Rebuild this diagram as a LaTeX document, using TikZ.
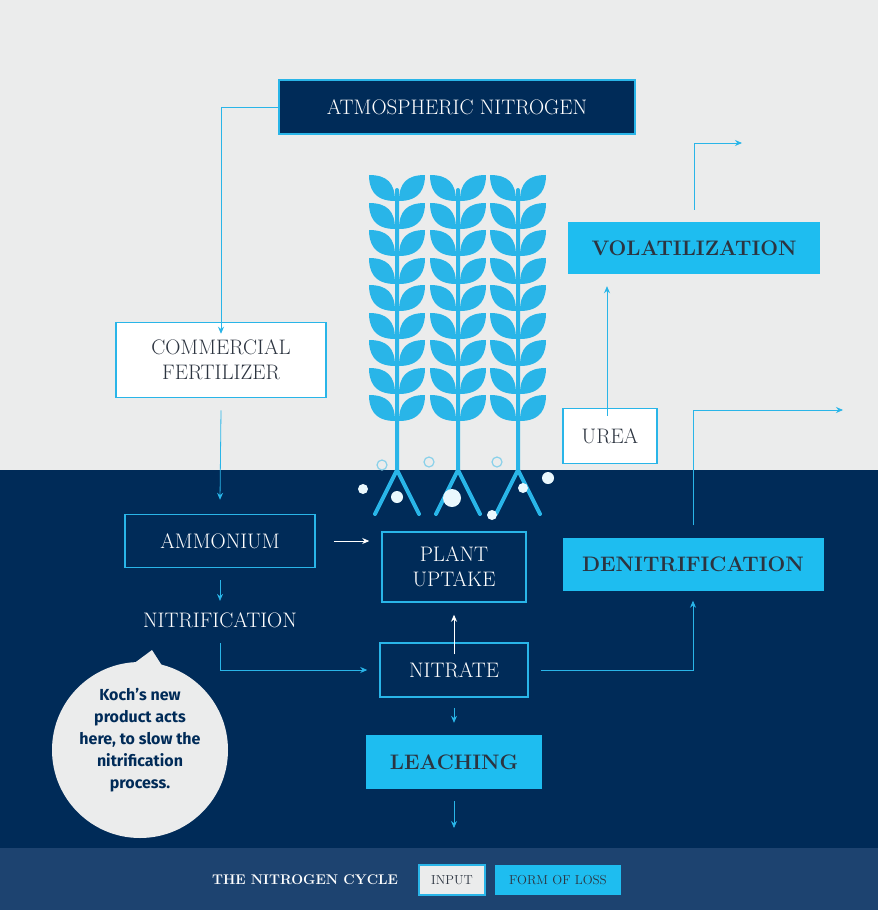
\documentclass[tikz,border=0pt]{standalone}
\usepackage{fontspec}
\newfontfamily\calloutfont{Fira Sans}
\usetikzlibrary{positioning}
\usetikzlibrary{arrows.meta}
\definecolor{navy}{HTML}{002B58}
\definecolor{band}{HTML}{1D4370}
\definecolor{paper}{HTML}{EBECEC}
\definecolor{cyanx}{HTML}{29B5E8}
\definecolor{lossfill}{HTML}{1EBDF0}
\definecolor{ink}{HTML}{2C3440}

\begin{document}
\begin{tikzpicture}[x=1pt,y=-1pt,>={Stealth[length=7pt,width=6pt]},
		flow/.style={->,cyanx,thick},
		input box/.style={draw=cyanx,line width=1.5pt,fill=white,text=ink,font=\fontsize{21}{25}\selectfont,align=center,inner sep=0pt},
		dark box/.style={draw=cyanx,line width=1.5pt,fill=navy,text=white,font=\fontsize{21}{25}\selectfont,align=center,inner sep=0pt},
		loss box/.style={fill=lossfill,text=ink,font=\bfseries\fontsize{21}{25}\selectfont,align=center,inner sep=0pt}]
		
		% background
		\useasboundingbox (0,0) rectangle (878,910);
		\fill[paper] (0,0) rectangle (878,470);
		\fill[navy] (0,470) rectangle (878,848);
		\fill[band] (0,848) rectangle (878,910);
		
		% plants
		\foreach \sx in {397,458,518} {
			\foreach \ly in {175,203,230,258,285,313,340,368,395} {
				\fill[cyanx] (\sx-2,\ly+26) .. controls (\sx-24,\ly+26) and (\sx-28,\ly+12) .. (\sx-28,\ly)
					.. controls (\sx-10,\ly) and (\sx-2,\ly+8) .. cycle;
				\fill[cyanx] (\sx+2,\ly+26) .. controls (\sx+24,\ly+26) and (\sx+28,\ly+12) .. (\sx+28,\ly)
					.. controls (\sx+10,\ly) and (\sx+2,\ly+8) .. cycle;
			}
			\draw[cyanx,line width=4pt,line cap=round] (\sx,190) -- (\sx,470) -- (\sx-22,514);
			\draw[cyanx,line width=4pt,line cap=round] (\sx,470) -- (\sx+22,514);
		}
		\foreach \bx/\by/\br in {382/465/5,429/462/5,497/462/5} {
			\draw[cyanx!50!paper,line width=1.2pt] (\bx,\by) circle (\br);
		}
		\foreach \bx/\by/\br in {363/489/5,397/497/6,452/498/9,492/515/5,523/488/5,548/478/6} {
			\fill[white!90!cyanx] (\bx,\by) circle (\br);
		}
		
		% nodes
		\node[dark box,minimum width=356,minimum height=54] (atmo) at (457,107) {ATMOSPHERIC NITROGEN};
		\node[input box,minimum width=210,minimum height=75] (fert) at (221,360) {COMMERCIAL\\FERTILIZER};
		\node[input box,minimum width=94,minimum height=55] (urea) at (610,436) {UREA};
		\node[loss box,minimum width=252,minimum height=52] (vola) at (694,248) {VOLATILIZATION};
		\node[dark box,minimum width=190,minimum height=53] (ammo) at (220,541) {AMMONIUM};
		\node[text=white,font=\fontsize{21}{25}\selectfont] (nitri) at (220,620) {NITRIFICATION};
		\node[dark box,minimum width=144,minimum height=70] (plant) at (454,567) {PLANT\\UPTAKE};
		\node[dark box,minimum width=148,minimum height=54] (nitra) at (454,670) {NITRATE};
		\node[loss box,minimum width=176,minimum height=54] (leach) at (454,762) {LEACHING};
		\node[loss box,minimum width=261,minimum height=53] (deni) at (693,564) {DENITRIFICATION};
		
		% callout
		\fill[paper] (140,750) circle (88);
		\fill[paper] (125,670) -- (152,650) -- (168,675) -- cycle;
		\node[text=navy,font=\calloutfont\bfseries\fontsize{16}{22}\selectfont,align=center] (koch) at (140,740)
			{Koch’s new\\product acts\\here, to slow the\\nitrification\\process.};
		
		% connectors
		\coordinate (vend) at (742,143);
		\coordinate (dend) at (843,410);
		\coordinate (lend) at (454,828);
		\draw[flow] (atmo.west) -| ([yshift=-12pt]fert.north);
		\draw[flow] ([yshift=-12pt]fert.south) -- ([yshift=14pt]ammo.north);
		\draw[->,white,thick] ([xshift=18pt]ammo.east) -- ([xshift=-12pt]plant.west|-ammo.east);
		\draw[flow] ([yshift=-12pt]ammo.south) -- ([yshift=8pt]nitri.north);
		\draw[flow] ([yshift=-12pt]nitri.south) |- ([xshift=-12pt]nitra.west);
		\draw[->,white,thick] ([yshift=-12pt]nitra.north) -- ([yshift=-12pt]plant.south);
		\draw[flow] ([yshift=-10pt]nitra.south) -- ([yshift=12pt]leach.north);
		\draw[flow] ([yshift=-12pt]leach.south) -- (lend);
		\draw[flow] ([xshift=12pt]nitra.east) -| ([yshift=-10pt]deni.south);
		\draw[flow] ([yshift=12pt]deni.north) |- (dend);
		\draw[flow] ([xshift=-3pt,yshift=-8pt]urea.north) -- ([xshift=-3pt,yshift=-12pt]urea.north|-vola.south);
		\draw[flow] ([yshift=12pt]vola.north) |- (vend);
		
		% legend
		\node[text=white,font=\bfseries\fontsize{14}{16}\selectfont] (title) at (305,880) {THE NITROGEN CYCLE};
		\node[draw=cyanx,line width=2pt,fill=paper,text=ink,font=\fontsize{13}{15}\selectfont,minimum width=66,minimum height=30,inner sep=0pt] (inkey) at (452,880) {INPUT};
		\node[fill=lossfill,text=ink,font=\fontsize{13}{15}\selectfont,minimum width=126,minimum height=30,inner sep=0pt] (losskey) at (558,880) {FORM OF LOSS};
\end{tikzpicture}
\end{document}
